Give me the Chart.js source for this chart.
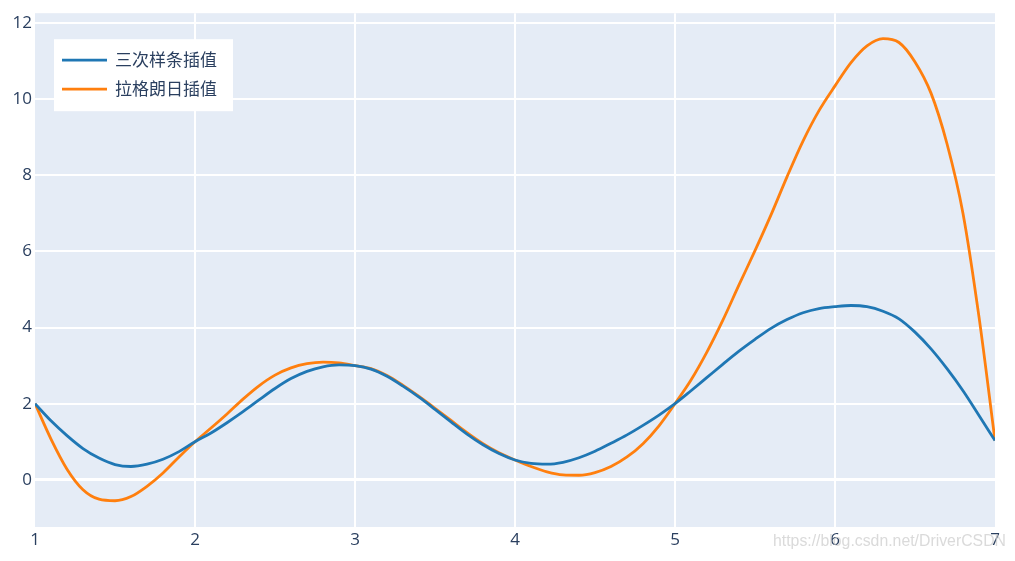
<!DOCTYPE html>
<html>
<head>
<meta charset="utf-8">
<script src="https://cdn.jsdelivr.net/npm/chart.js@4"></script>
<style>
  html, body { margin: 0; padding: 0; background: #fff; }
  #wrap { width: 1015px; height: 561px; }
</style>
</head>
<body>
<div id="wrap"><canvas id="interpChart"></canvas></div>
<script>
const xs = [1.0, 1.1, 1.2, 1.3, 1.4, 1.5, 1.6, 1.7, 1.8, 1.9,
            2.0, 2.1, 2.2, 2.3, 2.4, 2.5, 2.6, 2.7, 2.8, 2.9,
            3.0, 3.1, 3.2, 3.3, 3.4, 3.5, 3.6, 3.7, 3.8, 3.9,
            4.0, 4.1, 4.2, 4.3, 4.4, 4.5, 4.6, 4.7, 4.8, 4.9,
            5.0, 5.1, 5.2, 5.3, 5.4, 5.5, 5.6, 5.7, 5.8, 5.9,
            6.0, 6.1, 6.2, 6.3, 6.4, 6.5, 6.6, 6.7, 6.8, 6.9, 7.0];
const splineValues = [2.00, 1.55, 1.16, 0.82, 0.57, 0.40, 0.35, 0.41, 0.54, 0.74,
                      1.00, 1.23, 1.50, 1.79, 2.10, 2.40, 2.66, 2.85, 2.97, 3.02,
                      3.00, 2.91, 2.72, 2.46, 2.17, 1.85, 1.52, 1.20, 0.92, 0.69,
                      0.52, 0.43, 0.41, 0.46, 0.58, 0.75, 0.96, 1.18, 1.43, 1.70,
                      2.00, 2.34, 2.69, 3.04, 3.38, 3.69, 3.98, 4.21, 4.39, 4.50,
                      4.55, 4.58, 4.55, 4.43, 4.23, 3.88, 3.44, 2.92, 2.34, 1.69, 1.03];
const lagrangeValues = [2.00, 1.07, 0.28, -0.26, -0.51, -0.55, -0.44, -0.17, 0.18, 0.60,
                        1.00, 1.36, 1.73, 2.12, 2.47, 2.75, 2.94, 3.05, 3.09, 3.07,
                        3.00, 2.92, 2.74, 2.48, 2.19, 1.88, 1.56, 1.24, 0.95, 0.71,
                        0.52, 0.35, 0.21, 0.13, 0.12, 0.19, 0.35, 0.60, 0.95, 1.42,
                        2.00, 2.62, 3.36, 4.20, 5.12, 6.02, 6.96, 7.96, 8.90, 9.70,
                        10.35, 10.96, 11.40, 11.59, 11.49, 10.98, 10.16, 8.83, 7.00, 4.28, 1.03];
const seriesNames = ['三次样条插值', '拉格朗日插值'];
const seriesColors = ['#1f77b4', '#ff7f0e'];
const yTicks = [0, 2, 4, 6, 8, 10, 12];
const xTicks = [1, 2, 3, 4, 5, 6, 7];

const FONT = '"Open Sans", "Noto Sans CJK SC", sans-serif';
const INK = '#2a3f5f';

const toPoints = (vals) => vals.map((v, i) => ({ x: xs[i], y: v }));

const plotBg = {
    id: 'plotBg',
    beforeDraw(chart) {
        const { ctx, chartArea: a } = chart;
        ctx.save();
        ctx.fillStyle = '#e5ecf6';
        ctx.fillRect(a.left, a.top, a.right - a.left, a.bottom - a.top);
        ctx.restore();
    },
};

const boxLegend = {
    id: 'boxLegend',
    afterDatasetsDraw(chart) {
        const { ctx, chartArea: a } = chart;
        const x0 = a.left + 19, y0 = a.top + 26;
        ctx.save();
        ctx.fillStyle = '#fff';
        ctx.fillRect(x0, y0, 179, 72);
        ctx.font = '17px ' + FONT;
        ctx.textBaseline = 'middle';
        chart.data.datasets.forEach((ds, i) => {
            const y = y0 + 21 + i * 29;
            ctx.strokeStyle = ds.borderColor;
            ctx.lineWidth = 2.8;
            ctx.beginPath();
            ctx.moveTo(x0 + 8, y);
            ctx.lineTo(x0 + 53, y);
            ctx.stroke();
            ctx.fillStyle = INK;
            ctx.fillText(ds.label, x0 + 61, y + 1);
        });
        ctx.restore();
    },
};

const watermark = {
    id: 'watermark',
    afterDraw(chart) {
        const { ctx } = chart;
        ctx.save();
        ctx.font = '16px "Liberation Sans", Arial, sans-serif';
        ctx.textBaseline = 'middle';
        ctx.fillStyle = 'rgba(205, 205, 205, 0.75)';
        ctx.fillText('https://blog.csdn.net/DriverCSDN', 773, 542, 233);
        ctx.restore();
    },
};

new Chart(document.getElementById('interpChart'), {
    type: 'line',
    data: {
        datasets: [
            { label: seriesNames[0], data: toPoints(splineValues), borderColor: seriesColors[0] },
            { label: seriesNames[1], data: toPoints(lagrangeValues), borderColor: seriesColors[1] },
        ],
    },
    options: {
        responsive: true,
        maintainAspectRatio: false,
        animation: false,
        layout: { padding: { left: 0, right: 20, top: 10, bottom: 0 } },
        elements: {
            point: { radius: 0 },
            line: { borderWidth: 2.8, cubicInterpolationMode: 'monotone', fill: false },
        },
        plugins: { legend: { display: false }, tooltip: { enabled: false } },
        scales: {
            x: {
                type: 'linear',
                min: 1,
                max: 7,
                afterBuildTicks: (s) => { s.ticks = xTicks.map((v) => ({ value: v })); },
                afterFit: (s) => { s.height = 34; },
                border: { display: false },
                grid: {
                    drawTicks: false,
                    lineWidth: 2,
                    color: (c) => (c.tick && (c.tick.value === 1 || c.tick.value === 7)) ? 'rgba(0,0,0,0)' : '#fff',
                },
                ticks: { color: INK, font: { family: FONT, size: 17 }, padding: 3, maxRotation: 0 },
            },
            y: {
                min: -1.24,
                max: 12.26,
                afterBuildTicks: (s) => { s.ticks = yTicks.map((v) => ({ value: v })); },
                afterFit: (s) => { s.width = 35; },
                border: { display: false },
                grid: {
                    drawTicks: false,
                    color: '#fff',
                    lineWidth: (c) => (c.tick && c.tick.value === 0) ? 3 : 2,
                },
                ticks: { color: INK, font: { family: FONT, size: 17 }, padding: 3 },
            },
        },
    },
    plugins: [plotBg, boxLegend, watermark],
});
</script>
</body>
</html>
